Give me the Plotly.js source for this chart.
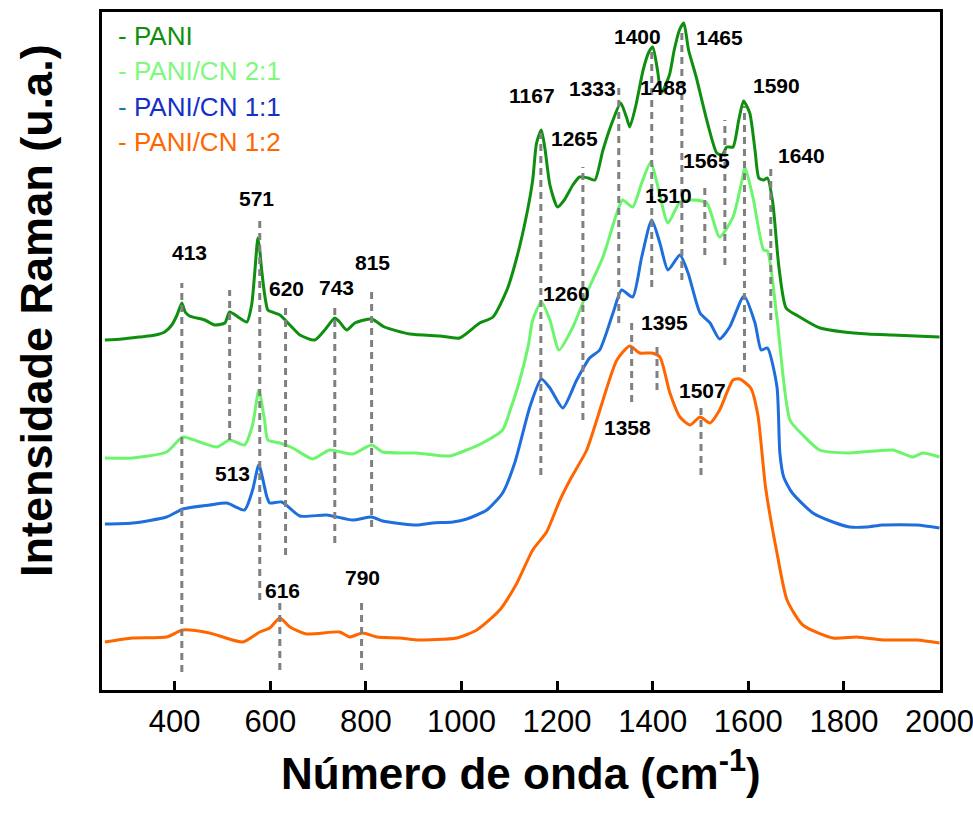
<!DOCTYPE html>
<html>
<head>
<meta charset="utf-8">
<script src="https://cdn.plot.ly/plotly-3.0.1.min.js"></script>
<style>html,body{margin:0;padding:0;background:#fff;}#chart{width:973px;height:814px;}</style>
</head>
<body>
<div id="chart"></div>
<script>
// ---- Data (wavenumber in cm^-1, intensity in arbitrary units, offset-stacked) ----
const paniX = [254,290,327,360,379,394,405,415,422,431,463,484,505,515,536,551,561,568,574,578,582,590,595,620,641,662,693,714,735,745,760,777,812,839,892,955,996,1038,1066,1095,1116,1137,1149,1157,1167,1175,1185,1201,1215,1233,1247,1265,1279,1296,1317,1333,1345,1352,1365,1380,1392,1400,1410,1418,1435,1445,1456,1465,1475,1491,1513,1534,1545,1555,1568,1580,1590,1603,1614,1622,1632,1640,1651,1664,1679,1704,1750,1800,1850,1900,1950,2000];
const paniY = [350,351,353,355,358,365,375,387,378,374,370,365,367,378,372,368,385,420,452,440,420,390,380,375,365,355,350,360,372,368,360,367,371,363,356,354,352,367,373,400,433,477,510,547,560,540,505,483,490,505,513,512,510,540,570,587,573,563,585,620,638,643,620,597,615,640,660,667,640,613,570,537,535,543,543,570,589,577,540,512,510,512,488,423,382,374,362,358,356,355,354,353];

const cn21X = [254,312,383,417,452,488,515,546,563,576,588,595,620,647,689,724,772,812,835,906,975,1011,1044,1086,1104,1122,1140,1149,1167,1185,1204,1233,1262,1296,1325,1337,1358,1377,1396,1410,1432,1457,1484,1513,1540,1568,1587,1593,1610,1632,1640,1660,1687,1714,1749,1812,1902,1944,1965,2000];
const cn21Y = [232,232,238,253,248,243,250,245,265,300,270,250,247,242,231,240,236,245,238,237,234,240,247,260,283,310,345,370,388,370,340,363,397,433,477,490,483,507,528,505,467,488,490,487,453,473,510,523,492,440,439,372,270,255,240,237,240,233,237,233];

const cn11X = [254,312,383,417,473,509,546,563,576,593,599,624,662,718,772,812,835,906,940,982,1011,1053,1086,1112,1143,1167,1185,1212,1241,1268,1289,1317,1335,1358,1377,1398,1415,1432,1457,1474,1499,1520,1540,1561,1591,1614,1627,1640,1660,1666,1674,1692,1735,1777,1812,1848,1881,1953,2000];
const cn11Y = [166,167,173,181,185,187,180,200,225,193,187,188,174,175,170,173,169,165,167,168,171,180,197,228,283,311,302,282,310,332,340,377,400,393,433,470,447,420,435,417,377,367,351,363,394,367,340,342,303,237,213,197,177,168,163,163,165,165,162];

const cn12X = [254,312,383,417,473,542,578,599,620,641,676,745,766,793,823,871,906,990,1032,1080,1116,1149,1178,1206,1227,1262,1283,1325,1352,1373,1398,1415,1436,1457,1478,1499,1520,1540,1568,1582,1605,1620,1636,1660,1681,1714,1777,1827,1881,1953,2000];
const cn12Y = [48,52,53,60,57,48,58,62,72,63,56,58,53,57,53,52,50,52,60,80,107,140,158,190,210,240,270,330,344,337,337,333,297,273,265,273,267,280,310,311,302,275,203,137,90,65,52,53,50,50,47];

// Peak marker lines (wavenumber, lower and upper intensity)
const markX  = [415,515,578,632,735,812,620,791,1166,1254,1329,1398,1461,1509,1551,1592,1647,1356,1409,1501];
const markLo = [18,250,90,135,147,163,20,20,215,270,367,403,410,435,425,318,370,288,300,215];
const markHi = [407,400,470,383,387,403,88,90,557,523,602,640,660,502,570,584,524,367,347,282];

// Peak labels
const labelText = ["413","571","620","743","815","513","616","790","1167","1265","1333","1400","1465","1488","1590","1565","1640","1510","1260","1395","1358","1507"];
const labelX = [431,572,634,739,814,521,626,793,1147,1237,1275,1369,1540,1423,1660,1513,1712,1434,1220,1425,1348,1505];
const labelY = [438,492,402,403,428,217,100,113,595,552,602,654,653,603,605,530,535,495,397,368,263,300];

const seriesNames = ["PANI","PANI/CN 2:1","PANI/CN 1:1","PANI/CN 1:2"];
const xTicks = [400,600,800,1000,1200,1400,1600,1800,2000];

// ---- Build ----
const colors = ['#0f8f0f','#6cf56c','#1e6fdc','#ff6600'];
const legendColors = ['#0f8f0f','#7dfa7d','#1430c8','#ff6600'];
const dashColors = ['#0f8f0f','#7dfa7d','#1a78b0','#ff6600'];
const xs = [paniX, cn21X, cn11X, cn12X];
const ys = [paniY, cn21Y, cn11Y, cn12Y];

const traces = [];
for (let i = 3; i >= 0; i--) {
  traces.push({x: xs[i], y: ys[i], type:'scatter', mode:'lines', name: seriesNames[i],
    line:{color: colors[i], width: 3, shape:'spline', smoothing:0.6}, hoverinfo:'skip'});
}
const mx = [], my = [];
for (let i = 0; i < markX.length; i++) {
  mx.push(markX[i], markX[i], null);
  my.push(markLo[i], markHi[i], null);
}
traces.push({x: mx, y: my, type:'scatter', mode:'lines', line:{color:'#808080', width:3, dash:'7px,5px'}, hoverinfo:'skip'});

const annotations = [];
for (let i = 0; i < labelText.length; i++) {
  annotations.push({x: labelX[i], y: labelY[i], xref:'x', yref:'y', text:'<b>'+labelText[i]+'</b>',
    showarrow:false, xanchor:'center', yanchor:'middle', font:{family:'Liberation Sans, Arial, sans-serif', size:21, color:'#000'}});
}
const legY = [0.9646, 0.913, 0.86, 0.808];
for (let i = 0; i < 4; i++) {
  annotations.push({x: 0.0167, y: legY[i], xref:'paper', yref:'paper', xanchor:'left', yanchor:'middle', showarrow:false,
    text: '<span style="color:'+dashColors[i]+'">-</span> '+seriesNames[i],
    font:{family:'Liberation Sans, Arial, sans-serif', size:26, color: legendColors[i]}});
}
// Axis titles
annotations.push({x:0.5, y:-0.118, xref:'paper', yref:'paper', xanchor:'center', yanchor:'middle', showarrow:false,
  text:'<b>Número de onda (cm<sup>-1</sup>)</b>', font:{family:'Liberation Sans, Arial, sans-serif', size:44, color:'#000'}});
annotations.push({x:-0.078, y:0.56, xref:'paper', yref:'paper', xanchor:'center', yanchor:'middle', showarrow:false, textangle:-90,
  text:'<b>Intensidade Raman (u.a.)</b>', font:{family:'Liberation Sans, Arial, sans-serif', size:45, color:'#000'}});

const layout = {
  width:973, height:814,
  margin:{l:102, r:33, t:12, b:124},
  paper_bgcolor:'#fff', plot_bgcolor:'#fff',
  showlegend:false,
  xaxis:{range:[248,2001], tickvals:xTicks, ticktext:xTicks.map(String), ticks:'inside', ticklen:9, tickwidth:3, tickcolor:'#000',
    showline:true, linewidth:3, linecolor:'#000', mirror:true, showgrid:false, zeroline:false, ticklabeloverflow:'allow',
    tickfont:{family:'Liberation Sans Narrow, Arial Narrow, sans-serif', size:31, color:'#000'}, ticklabelstandoff:2},
  yaxis:{range:[0,678], showticklabels:false, ticks:'', showline:true, linewidth:3, linecolor:'#000', mirror:true,
    showgrid:false, zeroline:false},
  annotations: annotations
};
Plotly.newPlot('chart', traces, layout, {displayModeBar:false, staticPlot:true});
</script>
</body>
</html>
